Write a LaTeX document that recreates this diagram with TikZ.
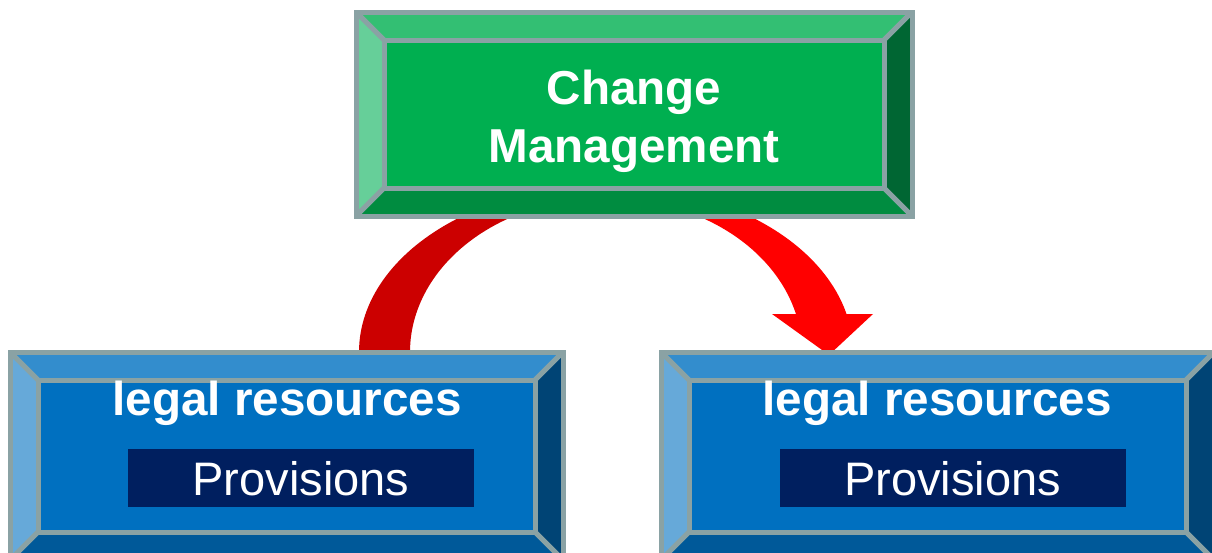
\documentclass[tikz,border=0pt]{standalone}
\usepackage{fontspec}
\setmainfont{Liberation Sans}
\definecolor{gc}{HTML}{00AF50}
\definecolor{gt}{HTML}{33BF73}
\definecolor{gl}{HTML}{66CF99}
\definecolor{gr}{HTML}{006633}
\definecolor{gb}{HTML}{008C40}
\definecolor{bc}{HTML}{0070C0}
\definecolor{bt}{HTML}{338DCD}
\definecolor{bl}{HTML}{66A9D9}
\definecolor{br}{HTML}{004475}
\definecolor{bb}{HTML}{005999}
\definecolor{edgegrey}{HTML}{8AA2A4}
\definecolor{navy}{HTML}{001F5F}
\definecolor{darkred}{HTML}{CC0000}
\definecolor{brightred}{HTML}{FF0000}
\newcommand\bvbox[6]{%
  \fill[#6c] (#1,#2) rectangle (#3,#4);
  \fill[#6t] (#1,#2) -- (#3,#2) -- ({#3-#5},{#2+#5}) -- ({#1+#5},{#2+#5}) -- cycle;
  \fill[#6b] (#1,#4) -- (#3,#4) -- ({#3-#5},{#4-#5}) -- ({#1+#5},{#4-#5}) -- cycle;
  \fill[#6l] (#1,#2) -- ({#1+#5},{#2+#5}) -- ({#1+#5},{#4-#5}) -- (#1,#4) -- cycle;
  \fill[#6r] (#3,#2) -- ({#3-#5},{#2+#5}) -- ({#3-#5},{#4-#5}) -- (#3,#4) -- cycle;
  \draw[edgeline] (#1,#2) rectangle (#3,#4);
  \draw[edgeline] ({#1+#5},{#2+#5}) rectangle ({#3-#5},{#4-#5});
  \draw[edgeline] (#1,#2) -- ({#1+#5},{#2+#5});
  \draw[edgeline] (#3,#2) -- ({#3-#5},{#2+#5});
  \draw[edgeline] (#1,#4) -- ({#1+#5},{#4-#5});
  \draw[edgeline] (#3,#4) -- ({#3-#5},{#4-#5});
}
\begin{document}
\begin{tikzpicture}[x=1pt,y=-1pt,
  edgeline/.style={draw=edgegrey,line width=5pt,line join=miter},
  boldtxt/.style={text=white,font=\fontsize{47.6}{57}\selectfont\bfseries,inner sep=0pt,anchor=base},
  provbox/.style={fill=navy,text=white,font=\fontsize{47}{56}\selectfont,inner sep=0pt,
    minimum width=346pt,minimum height=58pt,text height=34pt,text depth=0pt}]
\useasboundingbox (0,0) rectangle (1212,552);
% curved arrow: band between two ellipses centred at (606,352)
\fill[darkred] plot[domain=183:90,samples=60] ({606+247*cos(\x)},{352-167*sin(\x)})
  -- plot[domain=90:183,samples=60] ({606+196*cos(\x)},{352-154*sin(\x)}) -- cycle;
\fill[brightred] plot[domain=90:13.15,samples=60] ({606+247*cos(\x)},{352-167*sin(\x)})
  -- plot[domain=14.29:90,samples=60] ({606+196*cos(\x)},{352-154*sin(\x)}) -- cycle;
\coordinate (hl) at (772,314);
\coordinate (hr) at (873,314);
\coordinate (tip) at (829,355);
\fill[brightred] (hl) -- (hr) -- (tip) -- cycle;
% boxes
\bvbox{10}{352}{563}{560}{28}{b}
\bvbox{661}{352}{1214}{560}{28}{b}
\bvbox{356}{12}{912}{216}{28}{g}
% texts
\node[boldtxt] (cm1) at (634,104) {Change};
\node[boldtxt] (cm2) at (634,162) {Management};
\node[boldtxt] (lr1) at (287,415) {legal resources};
\node[boldtxt] (lr2) at (937,415) {legal resources};
\node[provbox] (pv1) at (301,478) {Provisions};
\node[provbox] (pv2) at (952.5,478) {Provisions};
\end{tikzpicture}
\end{document}
